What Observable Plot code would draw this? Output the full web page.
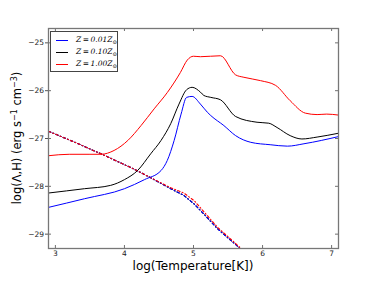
<!DOCTYPE html>
<html>
<head>
<meta charset="utf-8">
<script src="https://cdn.jsdelivr.net/npm/d3@7"></script>
<script src="https://cdn.jsdelivr.net/npm/@observablehq/plot@0.6"></script>
<style>
  html, body { margin: 0; padding: 0; background: #fff; }
  #wrap { position: relative; width: 376px; height: 282px; font-family: "DejaVu Sans", sans-serif; }
  #wrap svg { position: absolute; left: 0; top: 0; }
  .xlab { position: absolute; left: 48px; width: 290px; top: 259px; line-height: 14px; text-align: center; font-size: 12px; color: #000; }
  .ylab { position: absolute; left: 17px; top: 138px; transform: translate(-50%, -50%) rotate(-90deg); white-space: nowrap; font-size: 11.5px; color: #000; }
  .legend { position: absolute; left: 50px; top: 31px; width: 66px; height: 39px; border: 1px solid #444; background: #fff; font-family: "DejaVu Serif", "Liberation Serif", serif; font-style: italic; font-size: 7.5px; }
  .legend .row { position: absolute; left: 0; height: 10px; line-height: 10px; white-space: nowrap; }
  .legend .sw { position: absolute; left: 5px; top: 5px; width: 12px; height: 0; border-top: 1px solid; }
  .legend .tx { position: absolute; left: 25px; top: 0; }
  .legend sub { font-size: 5.5px; vertical-align: -1.5px; font-style: normal; }
</style>
</head>
<body>
<div id="wrap"></div>
<script>
// Cooling curves, log(Lambda) vs log(T)
const blueT = [2.9, 3.42, 4.0, 4.29, 4.53, 4.62, 4.72, 4.82, 4.90, 4.98, 5.10, 5.20, 5.25, 5.44, 5.61, 5.83, 6.11, 6.36, 6.60, 7.1];
const blueL = [-28.44, -28.26, -28.05, -27.86, -27.67, -27.46, -27.04, -26.49, -26.14, -26.12, -26.28, -26.45, -26.52, -26.73, -26.94, -27.08, -27.13, -27.16, -27.11, -26.96];

const blackT = [2.9, 3.42, 3.8, 4.0, 4.19, 4.38, 4.53, 4.67, 4.79, 4.90, 4.98, 5.10, 5.15, 5.25, 5.39, 5.61, 5.92, 6.09, 6.21, 6.40, 6.57, 6.79, 7.1];
const blackL = [-28.14, -28.05, -27.98, -27.86, -27.67, -27.32, -27.04, -26.69, -26.28, -25.98, -25.93, -26.03, -26.10, -26.14, -26.19, -26.54, -26.66, -26.68, -26.77, -26.94, -27.01, -26.97, -26.89];

const redT = [2.9, 3.2, 3.5, 3.66, 3.85, 4.05, 4.24, 4.43, 4.62, 4.81, 4.91, 5.0, 5.10, 5.39, 5.61, 5.73, 5.97, 6.19, 6.40, 6.62, 6.79, 6.93, 7.1];
const redL = [-27.36, -27.33, -27.33, -27.33, -27.25, -27.04, -26.73, -26.38, -26.04, -25.62, -25.36, -25.28, -25.29, -25.27, -25.67, -25.72, -25.79, -25.89, -26.21, -26.47, -26.50, -26.49, -26.51];

// Heating curves (dash-dot)
const heatT = [2.9, 3.3, 3.66, 4.14, 4.38, 4.67, 4.86, 5.01, 5.15, 5.35, 5.66, 5.75];
const heatL = [-26.85, -27.09, -27.32, -27.64, -27.82, -28.05, -28.19, -28.37, -28.58, -28.89, -29.28, -29.42];
const heatRedL = [-26.85, -27.09, -27.32, -27.64, -27.82, -28.03, -28.14, -28.30, -28.53, -28.86, -29.26, -29.40];

const xTicks = [3, 4, 5, 6, 7];
const yTicks = [-29, -28, -27, -26, -25];

const series = [
  {name: "Z=0.01", color: "#0000ff", T: blueT, L: blueL},
  {name: "Z=0.10", color: "#000000", T: blackT, L: blackL},
  {name: "Z=1.00", color: "#ff0000", T: redT, L: redL}
];
const heating = [
  {color: "#000000", T: heatT, L: heatL},
  {color: "#0000ff", T: heatT, L: heatL},
  {color: "#ff0000", T: heatT, L: heatRedL}
];
const toRows = s => s.T.map((t, i) => ({t, l: s.L[i], c: s.color}));

const W = 376, H = 282;
const mT = 28, mB = 34, mL = 48, mR = 38;
const plotH = H - mT - mB, plotW = W - mL - mR;

const chart = Plot.plot({
  width: W, height: H,
  marginTop: mT, marginBottom: mB, marginLeft: mL, marginRight: mR,
  style: {fontFamily: "DejaVu Sans, sans-serif", fontSize: "7.5px", background: "transparent"},
  x: {domain: [2.9, 7.1], ticks: xTicks},
  y: {domain: [-29.3, -24.7], ticks: yTicks},
  marks: [
    ...heating.map(h => Plot.line(toRows(h), {x: "t", y: "l", stroke: h.color, strokeWidth: 1.1, strokeDasharray: "2.5,2.2,1,2.2", clip: true})),
    ...series.map(s => Plot.line(toRows(s), {x: "t", y: "l", stroke: s.color, strokeWidth: 1, curve: "monotone-x", clip: true})),
    // inward ticks on all four sides
    Plot.tickX(xTicks, {x: d => d, insetTop: plotH - 3, stroke: "#333", strokeWidth: 0.7}),
    Plot.tickX(xTicks, {x: d => d, insetBottom: plotH - 3, stroke: "#333", strokeWidth: 0.7}),
    Plot.tickY(yTicks, {y: d => d, insetRight: plotW - 3, stroke: "#333", strokeWidth: 0.7}),
    Plot.tickY(yTicks, {y: d => d, insetLeft: plotW - 3, stroke: "#333", strokeWidth: 0.7}),
    Plot.axisX({ticks: xTicks, tickSize: 0, tickPadding: 2.5, label: null, tickFormat: d3.format("d"), fill: "#222"}),
    Plot.axisY({ticks: yTicks, tickSize: 3, tickPadding: 1.5, label: null, tickFormat: d => (d < 0 ? "\u2212" : "") + Math.abs(d), fill: "#222", stroke: "#555"}),
    Plot.frame({stroke: "#777", strokeWidth: 1.3})
  ]
});

const wrap = document.getElementById("wrap");
wrap.appendChild(chart);

const xl = document.createElement("div");
xl.className = "xlab";
xl.textContent = "log(Temperature[K])";
wrap.appendChild(xl);

const yl = document.createElement("div");
yl.className = "ylab";
yl.innerHTML = "log(\u039B,H) (erg s<sup style='font-size:8px'>\u22121</sup> cm<sup style='font-size:8px'>\u22123</sup>)";
wrap.appendChild(yl);

const lg = document.createElement("div");
lg.className = "legend";
const rowTops = [3, 15, 27];
series.forEach((s, i) => {
  const r = document.createElement("div");
  r.className = "row";
  r.style.top = rowTops[i] + "px";
  r.innerHTML = `<span class="sw" style="border-color:${s.color}"></span><span class="tx">Z\u2009=\u2009${s.name.slice(2)}Z<sub>\u2299</sub></span>`;
  lg.appendChild(r);
});
wrap.appendChild(lg);
</script>
</body>
</html>
